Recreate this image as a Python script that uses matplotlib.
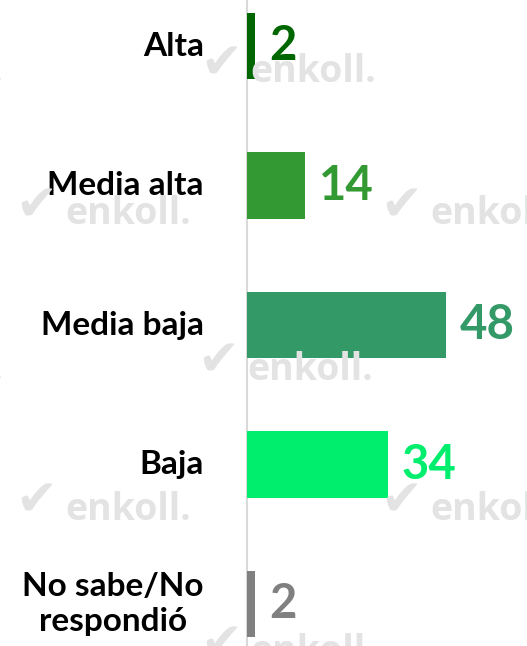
import matplotlib
matplotlib.use("Agg")
import matplotlib.pyplot as plt

categories = ["Alta", "Media alta", "Media baja", "Baja", "No sabe/No\nrespondió"]
values = [2, 14, 48, 34, 2]
colors = ["#006600", "#339933", "#339966", "#00ee6e", "#808080"]

W, H = 527, 646
fig = plt.figure(figsize=(W / 100, H / 100), dpi=100)

# watermarks (decorative)
wm_color = "#e3e3e3"
wm_rows = [
    (0.892, [200 / W, -173 / W]),
    (0.672, [15 / W, 380 / W]),
    (0.432, [197 / W, -173 / W]),
    (0.215, [15 / W, 380 / W]),
    (-0.005, [200 / W, -173 / W]),
]
for yy, xs in wm_rows:
    for xx in xs:
        fig.text(xx, yy + 0.008, "\u2714", fontsize=36, color=wm_color, family="DejaVu Sans",
                 va="center", ha="left", zorder=0)
        fig.text(xx + 50 / W, yy - 0.004, "enkoll.", fontsize=27, color=wm_color,
                 family="Open Sans", weight="bold", va="center", ha="left", zorder=0)

ax = fig.add_axes([247 / W, 0, 1 - 247 / W, 1])
ax.patch.set_alpha(0)
ypos = list(range(len(categories)))
ax.barh(ypos, values, height=0.48, color=colors, zorder=3)
ax.set_xlim(0, (W - 247) / 4.14)
ax.set_ylim(4 + 42 / 139.5, -46 / 139.5)

for s in ["top", "right", "bottom"]:
    ax.spines[s].set_visible(False)
ax.spines["left"].set_color("#d9d9d9")
ax.spines["left"].set_linewidth(1.5)
ax.set_xticks([])
ax.set_yticks([])

for y, v, c in zip(ypos, values, colors):
    ax.annotate(str(v), (v, y), xytext=(10, 0), textcoords="offset points",
                va="center", ha="left", fontsize=34, color=c,
                family="Lato", weight="bold")

for y, lab in zip(ypos, categories):
    ax.annotate(lab, (0, y), xytext=(-31, 0), textcoords="offset points",
                va="center", ha="right", multialignment="center",
                fontsize=24, color="black", family="Lato", weight="bold",
                linespacing=1.25, annotation_clip=False)

fig.savefig("out.png", dpi=100)
